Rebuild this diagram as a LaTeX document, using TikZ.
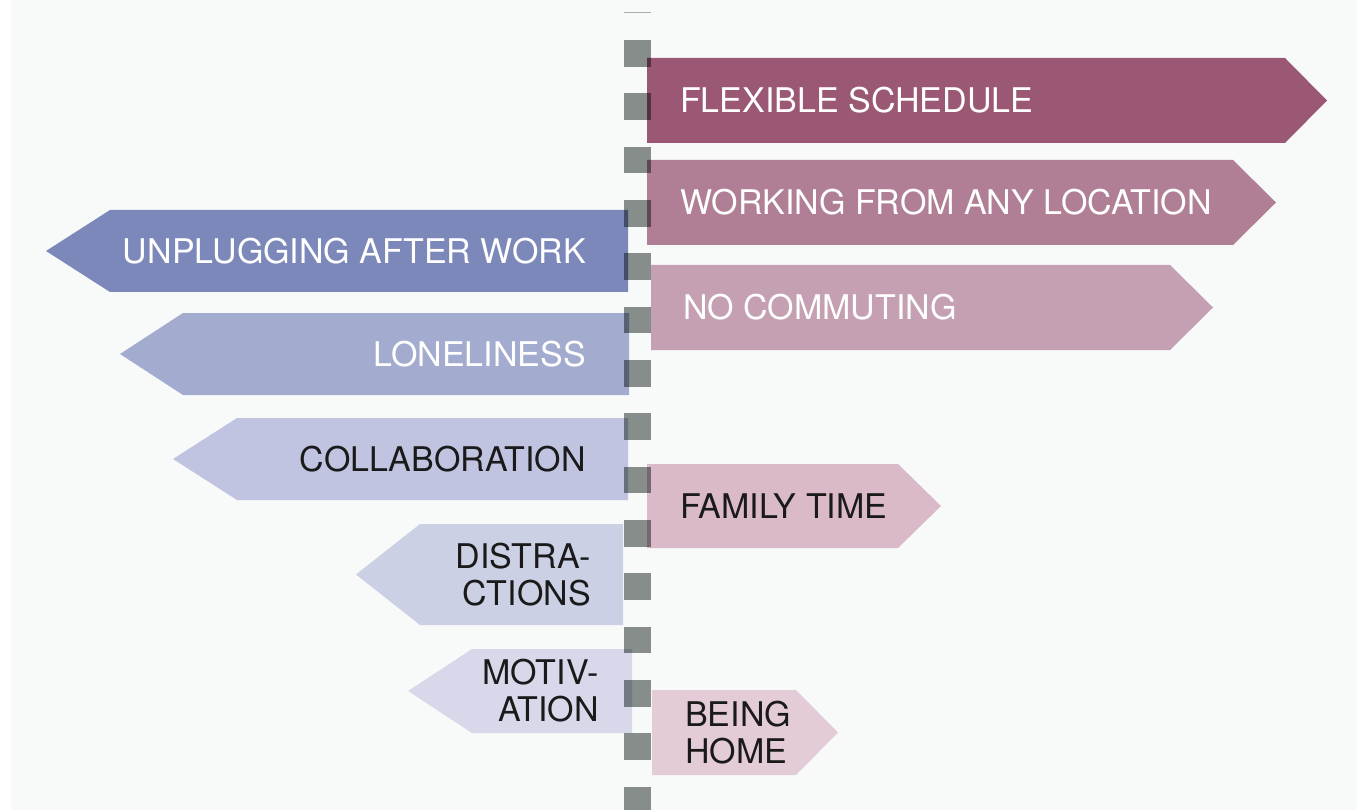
\documentclass[tikz,border=0pt]{standalone}
\usepackage{fontspec}
\setmainfont{TeX Gyre Heros}
\usepackage[HTML]{xcolor}
\usepackage{tikz}
\usetikzlibrary{positioning}

\definecolor{bggray}{HTML}{F8FAFA}
\definecolor{postgray}{HTML}{8A908E}
\definecolor{inkdark}{HTML}{1A1A1A}
% pros
\definecolor{proA}{HTML}{9A5874}
\definecolor{proB}{HTML}{B07F95}
\definecolor{proC}{HTML}{C4A0B2}
\definecolor{proD}{HTML}{DABAC9}
\definecolor{proE}{HTML}{E3CCD7}
% cons
\definecolor{conA}{HTML}{7C88B9}
\definecolor{conB}{HTML}{A3ABCF}
\definecolor{conC}{HTML}{C0C4E0}
\definecolor{conD}{HTML}{CCD0E4}
\definecolor{conE}{HTML}{D7D9EA}

\begin{document}
\begin{tikzpicture}[x=1pt,y=-1pt,
  tag/.style={inner sep=0pt,font=\fontsize{34}{37}\selectfont},
  light/.style={tag,text=white},
  dark/.style={tag,text=inkdark}]
\useasboundingbox (0,0) rectangle (1357,810);
\fill[bggray] (11,0) rectangle (1357,810);

% pros, pointing right
\fill[proA] (647,58) -- (1285,58) -- (1327,100.5) -- (1285,143) -- (647,143) -- cycle;
\node[light,anchor=west] (flex) at (680,100.5) {FLEXIBLE SCHEDULE};

\fill[proB] (647,160) -- (1233,160) -- (1276,202.5) -- (1233,245) -- (647,245) -- cycle;
\node[light,anchor=west] (anyloc) at (680,202.5) {WORKING FROM ANY LOCATION};

\fill[proC] (651,265) -- (1170,265) -- (1213,307.5) -- (1170,350) -- (651,350) -- cycle;
\node[light,anchor=west] (nocommute) at (683,307.5) {NO COMMUTING};

\fill[proD] (647,464) -- (898,464) -- (941,506) -- (898,548) -- (647,548) -- cycle;
\node[dark,anchor=west] (family) at (680,506) {FAMILY TIME};

\fill[proE] (652,690) -- (796,690) -- (838,732.5) -- (796,775) -- (652,775) -- cycle;
\node[dark,anchor=west,align=left] (home) at (685,732.5) {BEING\\HOME};

% cons, pointing left
\fill[conA] (628,210) -- (110,210) -- (46,251) -- (110,292) -- (628,292) -- cycle;
\node[light,anchor=east] (unplug) at (586,251) {UNPLUGGING AFTER WORK};

\fill[conB] (629,313) -- (183,313) -- (120,354) -- (183,395) -- (629,395) -- cycle;
\node[light,anchor=east] (lonely) at (586,354) {LONELINESS};

\fill[conC] (628,418) -- (237,418) -- (173,459) -- (237,500) -- (628,500) -- cycle;
\node[dark,anchor=east] (collab) at (586,459) {COLLABORATION};

\fill[conD] (623,524) -- (420,524) -- (356,574.5) -- (420,625) -- (623,625) -- cycle;
\node[dark,anchor=east,align=right] (distract) at (591,575) {DISTRA-\\CTIONS};

\fill[conE] (632,649) -- (472,649) -- (408,691) -- (472,733) -- (632,733) -- cycle;
\node[dark,anchor=east,align=right] (motiv) at (599,691) {MOTIV-\\ATION};

% the post
\begin{scope}[blend mode=multiply]
\fill[postgray!70] (624,12) rectangle (651,13.5);
\foreach \i in {0,...,14}
  \fill[postgray] (624,40+53.33*\i) rectangle ++(27,26.67);
\end{scope}
\end{tikzpicture}
\end{document}
